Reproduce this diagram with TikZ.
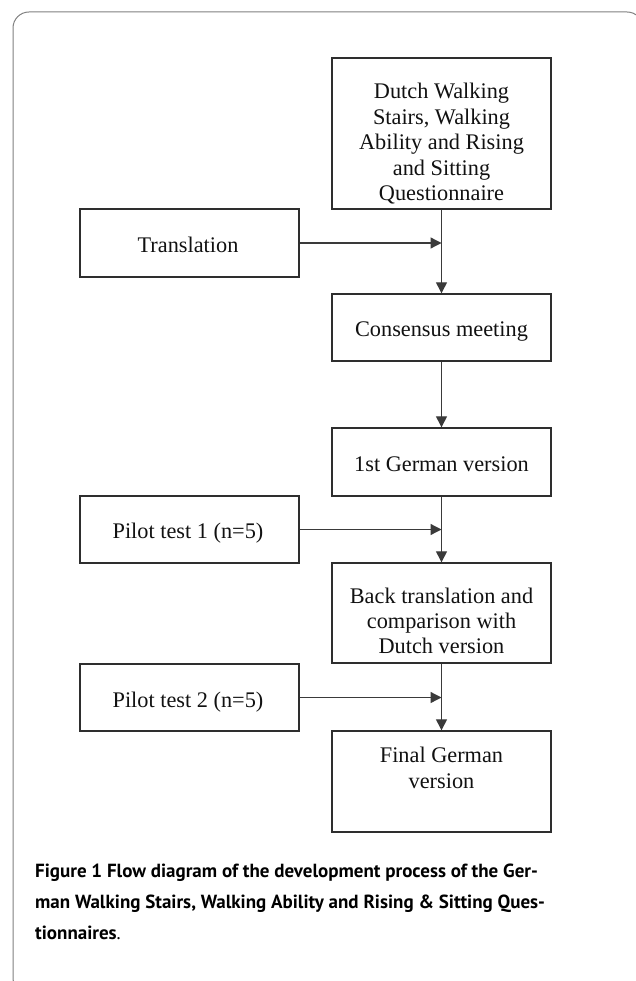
\documentclass[tikz,border=0pt]{standalone}
\usepackage{fontspec}
\setmainfont{Liberation Serif}
\newfontfamily\capfont{PT Sans}
\usetikzlibrary{arrows.meta}
\definecolor{boxgray}{HTML}{2E2E2E}
\definecolor{arrgray}{HTML}{3A3A3A}
\definecolor{framegray}{HTML}{808080}
\definecolor{txt}{HTML}{111111}
\begin{document}
\begin{tikzpicture}[x=1pt,y=-1pt,
  box/.style={draw=boxgray, line width=1.4pt, inner sep=0pt},
  lbl/.style={font=\fontsize{22.3}{25.4}\selectfont, text=txt, anchor=base, inner sep=0pt},
  captext/.style={font=\capfont\bfseries\fontsize{19}{31}\selectfont, text=black, anchor=base west, inner sep=0pt},
  arr/.style={draw=arrgray, line width=1.3pt, -{Triangle[length=11pt,width=11pt]}}]
\useasboundingbox (0,0) rectangle (635,981);
% frame
\draw[framegray, line width=1pt, rounded corners=16pt] (13,12) rectangle (643,994);
% boxes
\node[box, minimum width=219pt, minimum height=151pt] (dutch) at (441.5,133.5) {};
\node[box, minimum width=219pt, minimum height=68pt] (trans) at (189.5,243) {};
\node[box, minimum width=219pt, minimum height=67pt] (cons) at (441.5,327.5) {};
\node[box, minimum width=219pt, minimum height=68pt] (ger1) at (441.5,462) {};
\node[box, minimum width=219pt, minimum height=67pt] (pil1) at (189.5,529.5) {};
\node[box, minimum width=219pt, minimum height=100pt] (back) at (441.5,613) {};
\node[box, minimum width=219pt, minimum height=67pt] (pil2) at (189.5,697.5) {};
\node[box, minimum width=219pt, minimum height=101pt] (final) at (441.5,781.5) {};
% texts
\foreach \t [count=\i] in {Dutch Walking, {Stairs, Walking}, Ability and Rising, and Sitting, Questionnaire}
  \node[lbl] (d\i) at (441.5,{99+25.5*(\i-1)}) {\t};
\node[lbl] (transT) at (188,252.7) {Translation};
\node[lbl] (consT) at (441.5,336.7) {Consensus meeting};
\node[lbl] (ger1T) at (441.5,471.7) {1st German version};
\node[lbl] (pil1T) at (188,538) {Pilot test 1 (n=5)};
\foreach \t [count=\i] in {Back translation and, comparison with, Dutch version}
  \node[lbl] (b\i) at (441.5,{603+25*(\i-1)}) {\t};
\node[lbl] (pil2T) at (188,707) {Pilot test 2 (n=5)};
\node[lbl] (f1) at (441.5,762) {Final German};
\node[lbl] (f2) at (441.5,788) {version};
% connectors
\draw[arr] (dutch.south) -- (cons.north);
\draw[arr] (cons.south) -- (ger1.north);
\draw[arr] (ger1.south) -- (back.north);
\draw[arr] (back.south) -- (final.north);
\draw[arr] (trans.east) -- (trans.east -| dutch.south);
\draw[arr] (pil1.east) -- (pil1.east -| ger1.south);
\draw[arr] (pil2.east) -- (pil2.east -| back.south);
% caption
\node[captext] (c1) at (35,877) {Figure 1 Flow diagram of the development process of the Ger-};
\node[captext] (c2) at (35,908) {man Walking Stairs, Walking Ability and Rising \& Sitting Ques-};
\node[captext] (c3) at (35,939) {tionnaires{\mdseries .}};
\end{tikzpicture}
\end{document}
